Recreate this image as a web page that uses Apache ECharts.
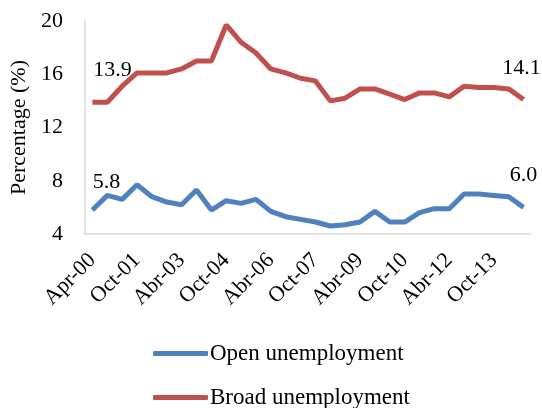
<!DOCTYPE html>
<html lang="en">
<head>
    <meta charset="UTF-8">
    <title>Unemployment</title>
    <script src="https://cdn.jsdelivr.net/npm/echarts@6/dist/echarts.min.js"></script>
    <style>
        body { margin: 0; background: #fff; }
    </style>
</head>
<body>
    <div id="main" style="width: 542px;height:408px;"></div>
    <script type="text/javascript">
        // semestral periods, Apr-00 .. Oct-14
        var periods = ['Apr-00', 'Oct-00', 'Abr-01', 'Oct-01', 'Abr-02', 'Oct-02', 'Abr-03', 'Oct-03',
            'Abr-04', 'Oct-04', 'Abr-05', 'Oct-05', 'Abr-06', 'Oct-06', 'Abr-07', 'Oct-07',
            'Abr-08', 'Oct-08', 'Abr-09', 'Oct-09', 'Abr-10', 'Oct-10', 'Abr-11', 'Oct-11',
            'Abr-12', 'Oct-12', 'Abr-13', 'Oct-13', 'Abr-14', 'Oct-14'];
        var openUnemp = [5.8, 6.9, 6.6, 7.7, 6.8, 6.4, 6.2, 7.3, 5.8, 6.5,
            6.3, 6.6, 5.7, 5.3, 5.1, 4.9, 4.6, 4.7, 4.9, 5.7,
            4.9, 4.9, 5.6, 5.9, 5.9, 7.0, 7.0, 6.9, 6.8, 6.0];
        var broadUnemp = [13.9, 13.9, 15.1, 16.1, 16.1, 16.1, 16.4, 17.0, 17.0, 19.7,
            18.4, 17.6, 16.4, 16.1, 15.7, 15.5, 14.0, 14.2, 14.9, 14.9,
            14.5, 14.1, 14.6, 14.6, 14.3, 15.1, 15.0, 15.0, 14.9, 14.1];

        var serif = 'Liberation Serif';

        // only first and last points get a value label
        function withEndLabels(arr, firstOffset, lastOffset) {
            return arr.map(function (v, i) {
                if (i === 0 || i === arr.length - 1) {
                    return {
                        value: v,
                        label: {
                            show: true,
                            position: 'top',
                            distance: 5,
                            offset: i === 0 ? firstOffset : lastOffset,
                            formatter: function (p) { return Number(p.value).toFixed(1); },
                            fontFamily: serif,
                            fontSize: 22,
                            color: '#000'
                        }
                    };
                }
                return v;
            });
        }

        var myChart = echarts.init(document.getElementById('main'));

        var option = {
            animation: false,
            grid: { left: 85, right: 11, top: 21, bottom: 174, outerBoundsMode: 'none' },
            legend: {
                orient: 'vertical',
                left: 148,
                top: 337,
                height: 80,
                itemWidth: 55,
                itemHeight: 5,
                itemGap: 21,
                icon: 'roundRect',
                textStyle: { fontFamily: serif, fontSize: 23, color: '#000', padding: [0, 0, 0, -3] },
                data: ['Open unemployment', 'Broad unemployment']
            },
            xAxis: {
                type: 'category',
                data: periods,
                boundaryGap: true,
                axisLine: { lineStyle: { color: '#d9d9d9', width: 1.5 } },
                axisTick: { show: false },
                axisLabel: {
                    interval: 2,
                    rotate: 45,
                    margin: 23,
                    fontFamily: serif,
                    fontSize: 22,
                    color: '#000'
                }
            },
            yAxis: {
                type: 'value',
                min: 4,
                max: 20,
                interval: 4,
                name: 'Percentage (%)',
                nameLocation: 'middle',
                nameRotate: 90,
                nameGap: 50,
                nameTextStyle: { fontFamily: serif, fontSize: 22, color: '#000' },
                axisLine: { show: true, lineStyle: { color: '#d9d9d9', width: 1.5 } },
                axisTick: { show: false },
                splitLine: { show: false },
                axisLabel: { margin: 22, fontFamily: serif, fontSize: 22, color: '#000' }
            },
            series: [
                {
                    name: 'Open unemployment',
                    type: 'line',
                    symbol: 'circle',
                    symbolSize: 0,
                    showSymbol: true,
                    color: '#4f81bd',
                    lineStyle: { width: 5, color: '#4f81bd' },
                    data: withEndLabels(openUnemp, [14, -12], [0, -16])
                },
                {
                    name: 'Broad unemployment',
                    type: 'line',
                    symbol: 'circle',
                    symbolSize: 0,
                    showSymbol: true,
                    color: '#c0504d',
                    lineStyle: { width: 5, color: '#c0504d' },
                    data: withEndLabels(broadUnemp, [20, -16], [-2, -15])
                }
            ]
        };

        myChart.setOption(option);
    </script>
</body>
</html>
